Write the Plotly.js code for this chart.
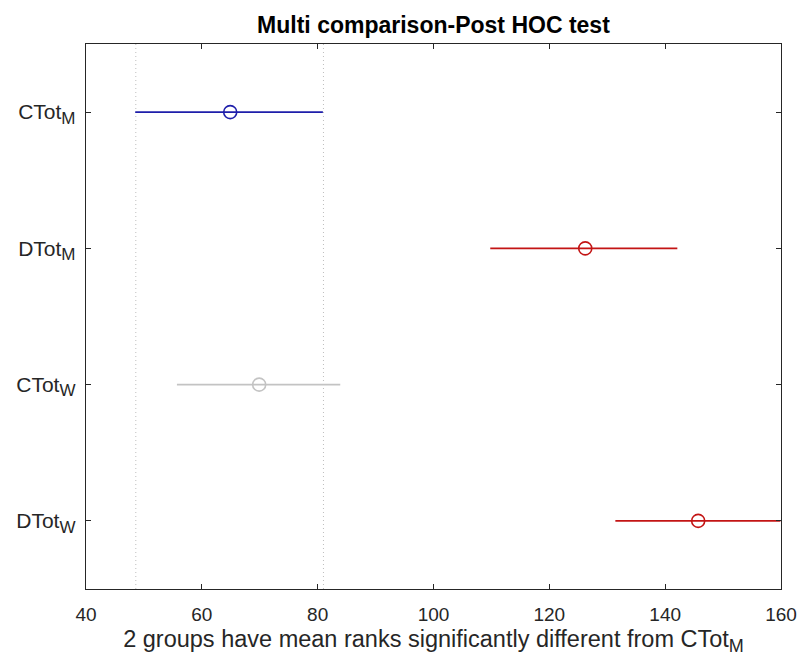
<!DOCTYPE html>
<html>
<head>
<meta charset="utf-8">
<script src="https://cdn.plot.ly/plotly-3.0.1.min.js"></script>
<style>html,body{margin:0;padding:0;background:#fff;}#chart{width:799px;height:662px;}</style>
</head>
<body>
<div id="chart"></div>
<script>
const groupNames = ["CTot", "DTot", "CTot", "DTot"];
const groupSubs = ["M", "M", "W", "W"];
const positions = [1, 2, 3, 4];
const meanRanks = [64.9, 126.2, 69.9, 145.7];
const lower = [48.5, 109.8, 55.7, 131.4];
const upper = [80.9, 142.1, 83.9, 159.9];
const colors = ["rgb(30,30,170)", "rgb(195,20,20)", "rgb(195,195,195)", "rgb(195,20,20)"];
const xTicks = [40, 60, 80, 100, 120, 140, 160];
const refLines = [48.6, 81.0];

const groups = groupNames.map((n, i) => n + '<sub><span style="font-size:17px">' + groupSubs[i] + '</span></sub>');

const traces = [];
refLines.forEach(v => {
  traces.push({
    x: [v, v], y: [0.5, 4.5], mode: 'lines', type: 'scatter',
    line: {color: 'rgb(190,190,190)', width: 1, dash: '1px,3px'},
    hoverinfo: 'skip', showlegend: false
  });
});
groups.forEach((g, i) => {
  traces.push({
    x: [meanRanks[i]], y: [positions[i]], type: 'scatter', mode: 'markers',
    marker: {symbol: 'circle-open', size: 13, color: colors[i], line: {width: 1.6, color: colors[i]}},
    error_x: {type: 'data', symmetric: false, array: [upper[i] - meanRanks[i]], arrayminus: [meanRanks[i] - lower[i]],
              color: colors[i], thickness: 1.8, width: 0},
    showlegend: false, name: g
  });
});

const layout = {
  width: 799, height: 662,
  margin: {l: 86, r: 18, t: 44, b: 73},
  paper_bgcolor: '#fff', plot_bgcolor: '#fff',
  font: {family: 'Liberation Sans, Arial, sans-serif', color: '#262626'},
  title: {text: '<b>Multi comparison-Post HOC test</b>', x: 0.5425, xanchor: 'center', y: 0.962, yanchor: 'middle',
          font: {size: 23, color: '#000'}},
  xaxis: {
    range: [40, 160], tickvals: xTicks, ticktext: xTicks.map(String),
    showgrid: false, zeroline: false, showline: true, linecolor: '#262626', linewidth: 1.3,
    mirror: 'ticks', ticks: 'inside', ticklen: 5, tickcolor: '#262626',
    tickfont: {size: 19, color: '#262626'}, ticklabelstandoff: 8,
    title: {text: '2 groups have mean ranks significantly different from CTot<sub><span style="font-size:18px">M</span></sub>',
            font: {size: 23.5, color: '#262626'}, standoff: 6}
  },
  yaxis: {
    range: [4.5, 0.5], tickvals: positions, ticktext: groups,
    showgrid: false, zeroline: false, showline: true, linecolor: '#262626', linewidth: 1.3,
    mirror: 'ticks', ticks: 'inside', ticklen: 5, tickcolor: '#262626',
    tickfont: {size: 21, color: '#262626'}, ticklabelstandoff: 5
  }
};

Plotly.newPlot('chart', traces, layout, {displayModeBar: false, staticPlot: true});
</script>
</body>
</html>
